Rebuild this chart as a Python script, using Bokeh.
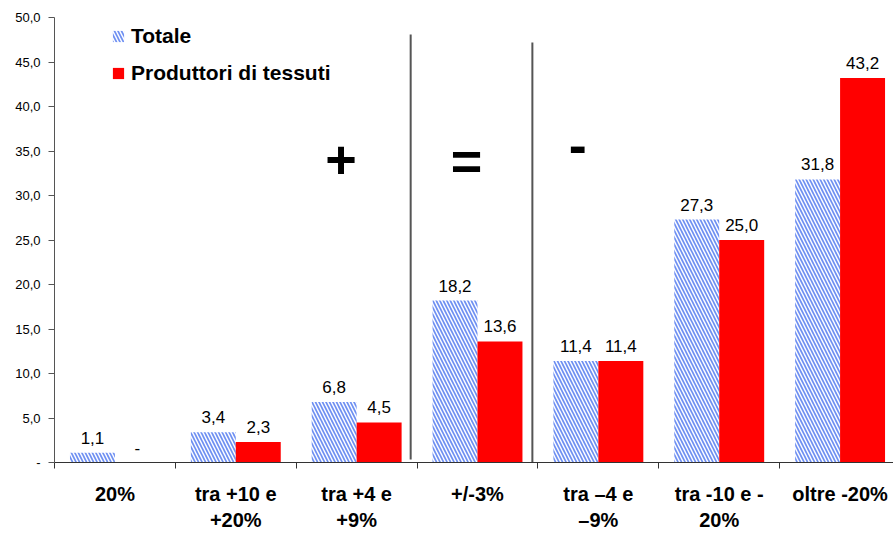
from bokeh.plotting import figure
from bokeh.models import ColumnDataSource, FixedTicker, Range1d, Label
from bokeh.embed import file_html
from bokeh.resources import INLINE
from bokeh.core.properties import value

categories = ["20%", "tra +10 e\n+20%", "tra +4 e\n+9%", "+/-3%", "tra \u20134 e\n\u20139%", "tra -10 e -\n20%", "oltre -20%"]
totale = [1.1, 3.4, 6.8, 18.2, 11.4, 27.3, 31.8]
produttori = [0.0, 2.3, 4.5, 13.6, 11.4, 25.0, 43.2]
y_ticks = [0, 5, 10, 15, 20, 25, 30, 35, 40, 45, 50]
series_names = ["Totale", "Produttori di tessuti"]

def fmt(v):
    return "-" if v == 0 else ("%.1f" % v).replace(".", ",")

FONT = "Liberation Sans"
bw = 0.372
n = len(categories)
centers = [i + 0.5 for i in range(n)]

p = figure(width=893, height=533, output_backend="svg", toolbar_location=None,
           x_range=Range1d(0, 6.942), y_range=Range1d(0, 50),
           min_border_left=54, min_border_top=17, min_border_right=0, min_border_bottom=68)
p.outline_line_color = None
p.grid.grid_line_color = None
p.background_fill_color = "white"

src = ColumnDataSource(dict(
    xt=[c - bw / 2 for c in centers], xp=[c + bw / 2 for c in centers],
    t=totale, pr=produttori,
    tl=[fmt(v) for v in totale], pl=[fmt(v) for v in produttori],
))

p.vbar(x="xt", top="t", width=bw, source=src, fill_color="white", line_color=None,
       hatch_pattern="\\", hatch_color="#6f90f2", hatch_weight=1.7, hatch_scale=7,
       legend_label=series_names[0])
p.vbar(x="xp", top="pr", width=bw, source=src, fill_color="#ff0000", line_color=None,
       legend_label=series_names[1])

p.text(x="xt", y="t", text="tl", source=src, text_align="center", text_baseline="alphabetic",
       y_offset=-15, text_font=value(FONT), text_font_size="17px", text_color="#000000")
p.text(x="xp", y="pr", text="pl", source=src, text_align="center", text_baseline="alphabetic",
       y_offset=-15, text_font=value(FONT), text_font_size="17px", text_color="#000000")

# separators
p.segment(x0=[2.947, 3.954], y0=[0.33, 0.0], x1=[2.947, 3.954], y1=[48.1, 47.2],
          line_color="#555555", line_width=2)

# signs
for x, y, s in [(2.37, 34.0, "+"), (3.41, 33.9, "="), (4.33, 35.6, "-")]:
    p.add_layout(Label(x=x, y=y, text=s, text_align="center", text_baseline="middle",
                       text_font=FONT, text_font_size="54px", text_font_style="bold",
                       text_color="#000000"))

# x axis
xa = p.xaxis[0]
xa.ticker = FixedTicker(ticks=centers, minor_ticks=list(range(n + 1)))
xa.major_label_overrides = {c: cat for c, cat in zip(centers, categories)}
xa.major_tick_out = 0
xa.major_tick_in = 0
xa.minor_tick_out = 6
xa.minor_tick_in = 0
xa.minor_tick_line_color = "#333333"
xa.axis_line_color = "#333333"
xa.major_label_text_font = FONT
xa.major_label_text_font_size = "20px"
xa.major_label_text_font_style = "bold"
xa.major_label_text_color = "#000000"
xa.major_label_standoff = 14

ya = p.yaxis[0]
ya.ticker = FixedTicker(ticks=y_ticks)
ya.major_label_overrides = {t: fmt(t) for t in y_ticks}
ya.major_tick_out = 6
ya.major_tick_in = 0
ya.minor_tick_out = 0
ya.minor_tick_in = 0
ya.axis_line_color = "#555555"
ya.major_tick_line_color = "#555555"
ya.major_label_text_font = FONT
ya.major_label_text_font_size = "13px"
ya.major_label_text_color = "#000000"
ya.major_label_standoff = 8

lg = p.legend[0]
lg.border_line_color = None
lg.background_fill_alpha = 0
lg.label_text_font = FONT
lg.label_text_font_size = "21px"
lg.label_text_font_style = "bold"
lg.label_text_color = "#000000"
lg.glyph_width = 14
lg.glyph_height = 14
lg.spacing = 13
lg.label_standoff = 6
lg.margin = 0
lg.padding = 0
lg.location = (57, 377)

open("out.html", "w").write(file_html(p, INLINE))
